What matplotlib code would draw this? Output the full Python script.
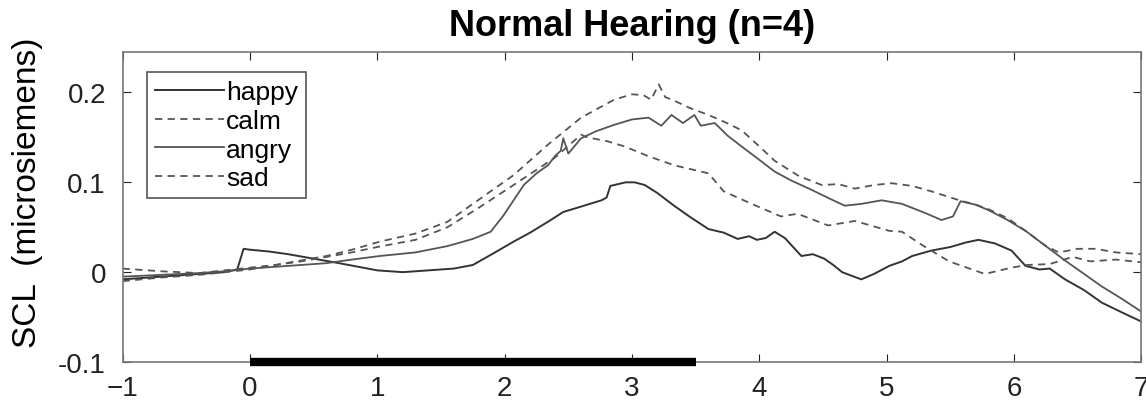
import matplotlib
matplotlib.use("Agg")
import matplotlib.pyplot as plt

plt.rcParams['font.family'] = ['Liberation Sans', 'DejaVu Sans']

# mean skin conductance level per emotion, time in seconds
happy_t = [-1.0, -0.8, -0.6, -0.4, -0.2, -0.1, -0.05, 0.0, 0.15, 0.3, 0.5, 0.7, 0.85, 1.0, 1.2, 1.4, 1.6,
           1.75, 1.9, 2.07, 2.2, 2.35, 2.46, 2.6, 2.76, 2.8, 2.83, 2.95, 3.02, 3.1, 3.2, 3.33, 3.45, 3.6,
           3.72, 3.83, 3.92, 3.98, 4.05, 4.12, 4.2, 4.33, 4.42, 4.51, 4.58, 4.65, 4.8, 4.9, 5.02, 5.12,
           5.2, 5.35, 5.5, 5.62, 5.72, 5.85, 5.98, 6.09, 6.2, 6.28, 6.4, 6.55, 6.69, 6.85, 7.0]
happy = [-0.008, -0.006, -0.004, -0.002, 0.0, 0.003, 0.026, 0.025, 0.023, 0.02, 0.015, 0.01, 0.006, 0.002,
         0.0, 0.002, 0.004, 0.008, 0.02, 0.034, 0.044, 0.057, 0.067, 0.073, 0.08, 0.083, 0.096, 0.1, 0.1,
         0.097, 0.088, 0.074, 0.062, 0.048, 0.044, 0.037, 0.04, 0.036, 0.038, 0.045, 0.038, 0.018, 0.02,
         0.015, 0.008, 0.0, -0.008, -0.002, 0.007, 0.012, 0.018, 0.024, 0.028, 0.033, 0.036, 0.032, 0.024,
         0.007, 0.003, 0.004, -0.008, -0.02, -0.034, -0.045, -0.055]

calm_t = [-1.0, -0.7, -0.4, -0.2, 0.0, 0.2, 0.4, 0.6, 0.8, 1.02, 1.3, 1.55, 1.81, 2.07, 2.34, 2.6, 2.86, 3.0,
          3.09, 3.15, 3.21, 3.26, 3.33, 3.45, 3.6, 3.73, 3.86, 4.0, 4.12, 4.31, 4.49, 4.62, 4.75, 4.9, 5.04,
          5.2, 5.35, 5.57, 5.7, 5.8, 5.95, 6.1, 6.24, 6.35, 6.5, 6.64, 6.8, 7.0]
calm = [0.004, 0.001, -0.001, 0.002, 0.005, 0.008, 0.013, 0.018, 0.025, 0.034, 0.043, 0.056, 0.082, 0.108,
        0.142, 0.172, 0.192, 0.198, 0.197, 0.192, 0.209, 0.195, 0.191, 0.183, 0.175, 0.167, 0.158, 0.14,
        0.124, 0.107, 0.097, 0.098, 0.093, 0.097, 0.099, 0.096, 0.09, 0.08, 0.075, 0.07, 0.06, 0.045, 0.03,
        0.022, 0.026, 0.026, 0.022, 0.02]

angry_t = [-1.0, -0.7, -0.4, -0.2, 0.0, 0.2, 0.4, 0.6, 0.8, 1.02, 1.3, 1.55, 1.75, 1.89, 1.99, 2.07, 2.15,
           2.25, 2.34, 2.4, 2.44, 2.46, 2.5, 2.6, 2.72, 2.86, 3.0, 3.13, 3.23, 3.31, 3.4, 3.49, 3.54, 3.65,
           3.75, 3.86, 4.0, 4.12, 4.25, 4.39, 4.55, 4.67, 4.8, 4.96, 5.12, 5.3, 5.43, 5.52, 5.58, 5.7, 5.8,
           5.95, 6.1, 6.24, 6.4, 6.55, 6.69, 6.85, 7.0]
angry = [-0.005, -0.003, -0.001, 0.001, 0.004, 0.006, 0.008, 0.01, 0.014, 0.018, 0.022, 0.029, 0.037, 0.045,
         0.063, 0.08, 0.097, 0.11, 0.119, 0.13, 0.135, 0.149, 0.132, 0.149, 0.157, 0.164, 0.17, 0.172, 0.163,
         0.175, 0.166, 0.175, 0.163, 0.166, 0.152, 0.14, 0.125, 0.112, 0.102, 0.093, 0.082, 0.074, 0.076,
         0.08, 0.076, 0.066, 0.058, 0.062, 0.079, 0.075, 0.069, 0.058, 0.045, 0.03, 0.013, -0.002, -0.016,
         -0.03, -0.044]

sad_t = [-1.0, -0.7, -0.4, -0.2, 0.0, 0.2, 0.4, 0.6, 0.8, 1.0, 1.3, 1.55, 1.8, 2.07, 2.39, 2.6, 2.65, 2.8,
         2.94, 3.13, 3.33, 3.6, 3.72, 3.94, 4.17, 4.3, 4.54, 4.75, 5.02, 5.12, 5.28, 5.49, 5.65, 5.77, 5.98,
         6.1, 6.28, 6.46, 6.6, 6.8, 7.0]
sad = [-0.01, -0.006, -0.003, 0.0, 0.003, 0.008, 0.012, 0.017, 0.022, 0.028, 0.036, 0.05, 0.072, 0.097,
       0.127, 0.153, 0.15, 0.146, 0.14, 0.129, 0.119, 0.11, 0.09, 0.076, 0.062, 0.065, 0.052, 0.057, 0.046,
       0.045, 0.03, 0.012, 0.004, -0.002, 0.005, 0.008, 0.009, 0.017, 0.012, 0.014, 0.011]

stim_on, stim_off = 0, 3.5

fig = plt.figure(figsize=(11.46, 4.02), dpi=100)
ax = fig.add_axes([0.107, 0.097, 0.889, 0.771])

ax.plot(happy_t, happy, '-', color='#333333', lw=1.4, label='happy')
ax.plot(calm_t, calm, '--', color='#555555', lw=1.3, dashes=(4, 3), label='calm')
ax.plot(angry_t, angry, '-', color='#555555', lw=1.3, label='angry')
ax.plot(sad_t, sad, '--', color='#555555', lw=1.3, dashes=(4, 3), label='sad')

# stimulus period bar on the x axis
ax.plot([stim_on, stim_off], [-0.1, -0.1], color='black', lw=6, solid_capstyle='butt',
        clip_on=False, zorder=5)

ax.set_xlim(-1, 7)
ax.set_ylim(-0.1, 0.245)
ax.set_xticks(range(-1, 8))
ax.set_yticks([-0.1, 0, 0.1, 0.2])
ax.set_yticklabels(['-0.1', '0', '0.1', '0.2'])
ax.tick_params(direction='in', top=True, right=True, length=6, labelsize=20, colors='#222222')
ax.tick_params(axis='x', pad=9)
ax.tick_params(axis='y', pad=12)
for s in ax.spines.values():
    s.set_color('#777777')
    s.set_linewidth(1.2)

ax.set_title('Normal Hearing (n=4)', fontsize=26, fontweight='bold', pad=12)
ax.set_ylabel('SCL  (microsiemens)', fontsize=24)
ax.yaxis.set_label_coords(-0.078, 0.55)

leg = ax.legend(loc='upper left', bbox_to_anchor=(0.024, 0.935), fontsize=19, handlelength=2.6,
                handletextpad=0.1, labelspacing=0.18, borderpad=0.3, borderaxespad=0,
                fancybox=False, framealpha=1, edgecolor='#555555')
leg.get_frame().set_linewidth(1.2)

fig.savefig('out.png', dpi=100)
